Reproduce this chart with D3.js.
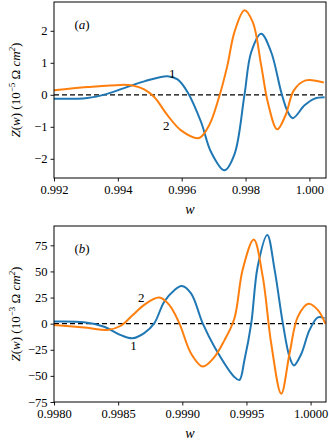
<!DOCTYPE html>
<html>
<head>
<meta charset="utf-8">
<script src="https://cdn.jsdelivr.net/npm/d3@7"></script>
<style>
  body { margin: 0; background: #fff; }
  svg { display: block; }
</style>
</head>
<body>
<div id="app"></div>
<script>
// panel (a): Z(w) in 1e-5 Ohm cm^2
var wA1 = [0.99200, 0.993045, 0.993664, 0.994198, 0.994826, 0.995557, 0.995871, 0.996185, 0.996606, 0.996920, 0.997338, 0.997652, 0.997966, 0.998176, 0.998490, 0.998804, 0.999118, 0.999325, 0.999482, 0.999849, 1.000163, 1.000477];
var zA1 = [-0.125, -0.10, 0.03, 0.21, 0.42, 0.58, 0.48, 0.08, -0.85, -1.79, -2.36, -1.86, 0.0, 1.33, 1.91, 1.33, 0.08, -0.54, -0.73, -0.33, -0.12, -0.08];
var wA2 = [0.99200, 0.993045, 0.994093, 0.994458, 0.994826, 0.995140, 0.995557, 0.995979, 0.996543, 0.996857, 0.997171, 0.997432, 0.997652, 0.997966, 0.998226, 0.998490, 0.998697, 0.998992, 0.999253, 0.999513, 0.999881, 1.000456];
var zA2 = [0.14, 0.24, 0.31, 0.29, 0.17, -0.07, -0.64, -1.11, -1.35, -0.96, -0.07, 0.92, 1.96, 2.64, 2.27, 0.92, -0.23, -1.08, -0.64, 0.14, 0.45, 0.38];

// panel (b): Z(w) in 1e-3 Ohm cm^2
var wB1 = [0.998000, 0.998234, 0.998391, 0.998521, 0.998612, 0.998703, 0.998781, 0.998859, 0.998938, 0.998995, 0.999068, 0.999159, 0.999250, 0.999406, 0.999445, 0.999484, 0.999537, 0.999588, 0.999662, 0.999719, 0.999784, 0.999836, 0.999870, 0.999927, 0.999992, 1.000057, 1.000109];
var zB1 = [2, 1.3, -3, -11, -14, -9, 0.3, 21, 32, 36, 29, 0.3, -22, -51, -54, -35, 0, 55, 85, 52, 0, -32, -40, -29, -6, 6, 5];
var wB2 = [0.998000, 0.998260, 0.998416, 0.998521, 0.998612, 0.998703, 0.998820, 0.998898, 0.998977, 0.999068, 0.999159, 0.999250, 0.999328, 0.999406, 0.999471, 0.999557, 0.999627, 0.999693, 0.999771, 0.999836, 0.999901, 0.999984, 1.000057, 1.000115];
var zB2 = [-1.3, -4, -6, -2, 8, 18, 25, 18, 0.3, -28.5, -41, -32, -16, 5, 52, 80.5, 45, -19, -67, -28.5, 6.7, 19, 13, 0];

var ticksXA = [0.992, 0.994, 0.996, 0.998, 1.000];
var ticksYA = [-2, -1, 0, 1, 2];
var ticksXB = [0.9980, 0.9985, 0.9990, 0.9995, 1.0000];
var ticksYB = [-75, -50, -25, 0, 25, 50, 75];

var labelsA = [{t: '1', w: 0.995707, z: 0.66}, {t: '2', w: 0.995519, z: -0.96}];
var labelsB = [{t: '2', w: 0.998680, z: 25}, {t: '1', w: 0.998620, z: -21}];

var blue = '#1f77b4', orange = '#ff7f0e';
var serif = 'Liberation Serif';

var svg = d3.select('#app').append('svg').attr('width', 329).attr('height', 441)
    .attr('font-family', serif);
svg.append('rect').attr('width', 329).attr('height', 441).attr('fill', '#fff');

function panel(o) {
    var x = d3.scaleLinear().domain(o.xd).range([54, 326]);
    var y = d3.scaleLinear().domain(o.yd).range([o.bottom, o.top]);
    var g = svg.append('g');

    var line = d3.line().curve(d3.curveCatmullRom.alpha(0.5))
        .x(function (d) { return x(d[0]); })
        .y(function (d) { return y(d[1]); });

    g.append('line').attr('x1', 54).attr('x2', 326).attr('y1', y(0)).attr('y2', y(0))
        .attr('stroke', '#000').attr('stroke-width', 1.3).attr('stroke-dasharray', '5,3');

    g.append('path').datum(d3.zip(o.w1, o.z1)).attr('d', line)
        .attr('fill', 'none').attr('stroke', blue).attr('stroke-width', 2);
    g.append('path').datum(d3.zip(o.w2, o.z2)).attr('d', line)
        .attr('fill', 'none').attr('stroke', orange).attr('stroke-width', 2);

    var xa = g.append('g').attr('transform', 'translate(0,' + o.bottom + ')')
        .call(d3.axisBottom(x).tickValues(o.tx).tickSize(3.5).tickPadding(4).tickFormat(d3.format(o.fx)));
    var ya = g.append('g').attr('transform', 'translate(54,0)')
        .call(d3.axisLeft(y).tickValues(o.ty).tickSize(3.5).tickPadding(3).tickFormat(function (d) {
            return d < 0 ? '\u2212' + (-d) : '' + d;
        }));
    [xa, ya].forEach(function (a) {
        a.attr('font-family', serif).attr('font-size', 12.5);
        a.select('.domain').remove();
        a.selectAll('line').attr('stroke', '#000').attr('stroke-width', 0.9);
    });

    g.append('rect').attr('x', 54).attr('y', o.top).attr('width', 272).attr('height', o.bottom - o.top)
        .attr('fill', 'none').attr('stroke', '#000').attr('stroke-width', 1);

    o.labels.forEach(function (l) {
        g.append('text').attr('x', x(l.w)).attr('y', y(l.z)).attr('text-anchor', 'middle')
            .attr('dy', '0.35em').attr('font-size', 13).text(l.t);
    });

    g.append('text').attr('x', 82).attr('y', o.top + 27).attr('text-anchor', 'middle')
        .attr('font-size', 13).html('(<tspan font-style="italic">' + o.tag + '</tspan>)');

    g.append('text').attr('x', 190).attr('y', o.bottom + 36).attr('text-anchor', 'middle')
        .attr('font-size', 14).attr('font-style', 'italic').text('w');

    var yl = g.append('text').attr('transform', 'translate(20,' + ((o.top + o.bottom) / 2) + ') rotate(-90)')
        .attr('text-anchor', 'middle').attr('font-size', 13);
    yl.append('tspan').attr('font-style', 'italic').text('Z');
    yl.append('tspan').text('(');
    yl.append('tspan').attr('font-style', 'italic').text('w');
    yl.append('tspan').text(') (10');
    yl.append('tspan').attr('font-size', 9).attr('dy', -5).text('\u2212' + o.exp);
    yl.append('tspan').attr('dy', 5).text(' \u03A9 ');
    yl.append('tspan').attr('font-style', 'italic').text('cm');
    yl.append('tspan').attr('font-size', 9).attr('font-style', 'italic').attr('dy', -5).text('2');
    yl.append('tspan').attr('dy', 5).text(')');
}

panel({xd: [0.992, 1.00052], yd: [-2.6, 2.9], top: 2, bottom: 178, w1: wA1, z1: zA1, w2: wA2, z2: zA2,
       tx: ticksXA, ty: ticksYA, fx: '.3f', labels: labelsA, tag: 'a', exp: '5'});
panel({xd: [0.998, 1.00012], yd: [-75, 93.5], top: 226, bottom: 402, w1: wB1, z1: zB1, w2: wB2, z2: zB2,
       tx: ticksXB, ty: ticksYB, fx: '.4f', labels: labelsB, tag: 'b', exp: '3'});
</script>
</body>
</html>
